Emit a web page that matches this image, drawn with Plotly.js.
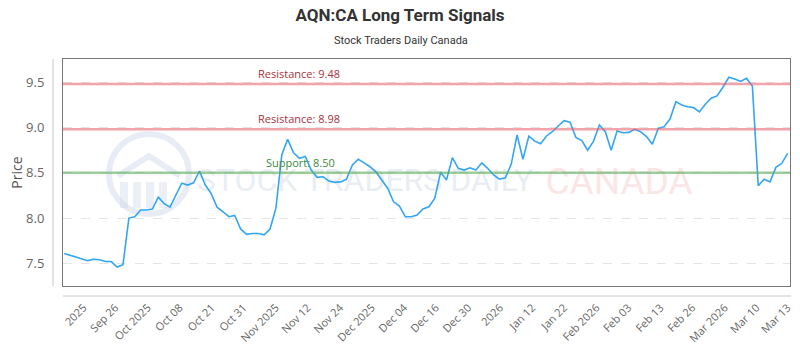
<!DOCTYPE html>
<html>
<head>
<meta charset="utf-8">
<script src="https://cdn.plot.ly/plotly-3.0.1.min.js"></script>
<style>html,body{margin:0;padding:0;background:#fff;}#chart{width:800px;height:350px;}</style>
</head>
<body>
<div id="chart"></div>
<script>
// ---- data ----
const prices = [
  7.61, 7.59, 7.57, 7.55, 7.53, 7.545, 7.54, 7.52, 7.52, 7.46,
  7.485, 8.00, 8.015, 8.09, 8.09, 8.10, 8.23, 8.16, 8.12, 8.255,
  8.385, 8.365, 8.39, 8.52, 8.365, 8.27, 8.12, 8.07, 8.015, 8.03,
  7.88, 7.82, 7.83, 7.83, 7.815, 7.88, 8.11, 8.70, 8.87, 8.72,
  8.66, 8.68, 8.53, 8.45, 8.457, 8.41, 8.395, 8.40, 8.43, 8.586,
  8.65, 8.61, 8.567, 8.51, 8.42, 8.33, 8.18, 8.133, 8.015, 8.015,
  8.034, 8.10, 8.125, 8.218, 8.505, 8.42, 8.667, 8.55, 8.53, 8.556,
  8.53, 8.61, 8.55, 8.476, 8.43, 8.446, 8.594, 8.918, 8.65, 8.905,
  8.85, 8.82, 8.907, 8.954, 9.017, 9.076, 9.06, 8.89, 8.855, 8.75,
  8.85, 9.028, 8.954, 8.75, 8.962, 8.943, 8.947, 8.98, 8.954, 8.90,
  8.815, 8.99, 9.01, 9.094, 9.286, 9.249, 9.23, 9.22, 9.172, 9.257,
  9.323, 9.349, 9.445, 9.555, 9.536, 9.51, 9.544, 9.459, 8.357, 8.43,
  8.40, 8.56, 8.605, 8.715
];
const tickPositions = [3.3, 8.7, 14.2, 19.6, 25.1, 30.5, 36.0, 41.4, 46.9, 52.3, 57.8, 63.2,
  68.7, 74.1, 79.6, 85.0, 90.5, 95.9, 101.4, 106.8, 112.3, 117.7, 123.0];
const tickLabels = ["2025", "Sep 26", "Oct 2025", "Oct 08", "Oct 21", "Oct 31", "Nov 2025",
  "Nov 12", "Nov 24", "Dec 2025", "Dec 04", "Dec 16", "Dec 30", "2026", "Jan 12", "Jan 22",
  "Feb 2026", "Feb 03", "Feb 13", "Feb 26", "Mar 2026", "Mar 10", "Mar 13"];
const resistanceLevels = [9.48, 8.98];
const supportLevels = [8.50];

// ---- helpers for pixel -> paper (plot area 63..790 x 59..286) ----
const PL = 63, PR = 790, PT = 59, PB = 286;
const px = x => (x - PL) / (PR - PL);
const py = y => (PB - y) / (PB - PT);

const xIdx = prices.map((_, i) => i);

const shapes = [];
const annotations = [];

// watermark (below traces)
shapes.push({type: 'circle', layer: 'below', xref: 'paper', yref: 'paper',
  x0: px(109), x1: px(189), y0: py(214), y1: py(134),
  line: {color: 'rgba(205,215,232,0.45)', width: 6}, fillcolor: 'rgba(0,0,0,0)'});
shapes.push({type: 'path', layer: 'below', xref: 'paper', yref: 'paper',
  path: `M ${px(118)} ${py(176)} L ${px(149)} ${py(156)} L ${px(180)} ${py(176)}`,
  line: {color: 'rgba(205,215,232,0.45)', width: 6}});
[124, 137, 150, 163].forEach(c => {
  shapes.push({type: 'rect', layer: 'below', xref: 'paper', yref: 'paper',
    x0: px(c - 4), x1: px(c + 4), y0: py(208), y1: py(182),
    line: {width: 0}, fillcolor: 'rgba(205,215,232,0.4)'});
});
shapes.push({type: 'rect', layer: 'below', xref: 'paper', yref: 'paper',
  x0: px(200), x1: px(530), y0: py(200), y1: py(156),
  line: {width: 0}, fillcolor: 'rgba(0,0,0,0)',
  label: {text: 'STOCK TRADERS DAILY', textposition: 'middle center',
    font: {family: 'Roboto, sans-serif', size: 32, color: 'rgba(205,215,232,0.45)'}}});
shapes.push({type: 'rect', layer: 'below', xref: 'paper', yref: 'paper',
  x0: px(542), x1: px(696), y0: py(200), y1: py(156),
  line: {width: 0}, fillcolor: 'rgba(0,0,0,0)',
  label: {text: 'CANADA', textposition: 'middle center',
    font: {family: 'Roboto, sans-serif', size: 37, color: 'rgba(245,190,190,0.4)'}}});

// offset axis lines
shapes.push({type: 'line', xref: 'paper', yref: 'paper', x0: px(53), x1: px(53), y0: py(286), y1: py(59),
  line: {color: '#c8c8c8', width: 1}});
shapes.push({type: 'line', xref: 'paper', yref: 'paper', x0: px(63), x1: px(791), y0: py(296), y1: py(296),
  line: {color: '#c8c8c8', width: 1}});

// levels
resistanceLevels.forEach(v => {
  shapes.push({type: 'line', xref: 'paper', yref: 'y', x0: 0, x1: 1, y0: v, y1: v,
    line: {color: 'rgba(232,90,100,0.55)', width: 2.5}});
  annotations.push({xref: 'paper', yref: 'y', x: px(299), xanchor: 'center', y: v, yanchor: 'bottom', yshift: 1,
    showarrow: false, text: 'Resistance: ' + v.toFixed(2),
    font: {family: 'Open Sans, sans-serif', size: 11, color: '#a8323a'}});
});
supportLevels.forEach(v => {
  shapes.push({type: 'line', xref: 'paper', yref: 'y', x0: 0, x1: 1, y0: v, y1: v,
    line: {color: 'rgba(90,175,90,0.6)', width: 2.5}});
  annotations.push({xref: 'paper', yref: 'y', x: px(300), xanchor: 'center', y: v, yanchor: 'bottom', yshift: 1,
    showarrow: false, text: 'Support: ' + v.toFixed(2),
    font: {family: 'Open Sans, sans-serif', size: 11, color: '#3d8a3d'}});
});

annotations.push({xref: 'paper', yref: 'paper', x: px(401), xanchor: 'center', y: py(40), yanchor: 'middle',
  showarrow: false, text: 'Stock Traders Daily Canada',
  font: {family: 'Roboto, sans-serif', size: 11, color: '#333'}});

const trace = {
  x: xIdx, y: prices, type: 'scatter', mode: 'lines',
  line: {color: '#33a5f5', width: 1.6}, hoverinfo: 'skip'
};

const layout = {
  width: 800, height: 350,
  margin: {l: PL, r: 800 - PR, t: PT, b: 350 - PB},
  paper_bgcolor: '#fff', plot_bgcolor: '#fff',
  showlegend: false,
  title: {text: '<b>AQN:CA Long Term Signals</b>', x: 0.5, xanchor: 'center', y: 1 - 15 / 350, yanchor: 'middle',
    font: {family: 'Roboto, sans-serif', size: 17, color: '#333'}},
  xaxis: {
    type: 'linear', range: [-0.2, 123.4], showgrid: false, zeroline: false,
    showline: true, mirror: true, linecolor: '#777', linewidth: 1,
    tickmode: 'array', tickvals: tickPositions, ticktext: tickLabels, tickangle: -45,
    ticks: '', ticklabelstandoff: 10,
    tickfont: {family: 'Open Sans, sans-serif', size: 11, color: '#666'}
  },
  yaxis: {
    range: [7.25, 9.757], dtick: 0.5, tick0: 7.5, tickformat: '.1f',
    showgrid: true, gridcolor: '#e4e4e4', griddash: 'dash', gridwidth: 1, zeroline: false,
    showline: true, mirror: true, linecolor: '#777', linewidth: 1,
    ticks: '', ticklabelstandoff: 15,
    tickfont: {family: 'Open Sans, sans-serif', size: 13, color: '#666'},
    title: {text: 'Price', standoff: 0, font: {family: 'Open Sans, sans-serif', size: 14, color: '#555'}}
  },
  shapes: shapes,
  annotations: annotations
};

Plotly.newPlot('chart', [trace], layout, {staticPlot: true, displayModeBar: false});
</script>
</body>
</html>
